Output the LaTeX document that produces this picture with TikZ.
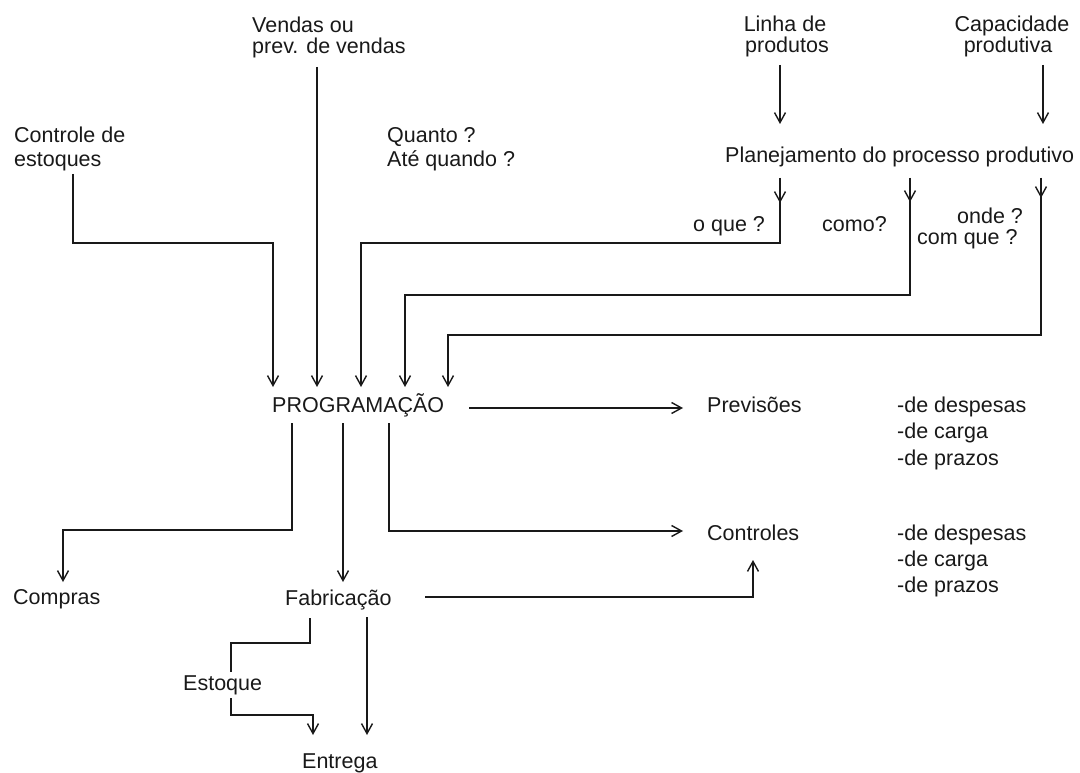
\documentclass[tikz,border=0pt]{standalone}
\usepackage{fontspec}
\setmainfont{Liberation Sans}
\usetikzlibrary{arrows.meta}
\begin{document}
\begin{tikzpicture}[x=1pt,y=-1pt,
  lbl/.style={anchor=base west,inner sep=0pt,font=\fontsize{21.5}{24}\selectfont,text=black!90},
  lblc/.style={lbl,anchor=base},
  flow/.style={line width=1.8pt,draw=black!90},
  tip/.style={-{Straight Barb[length=10pt,width=11pt,line width=1.4pt]}}]
\useasboundingbox (0,0) rectangle (1080,773);

% ---- labels ----
\node[lbl]  (vend1)   at (252,33)  {Vendas ou};
\node[lbl]  (vend2)   at (252,54)  {prev. de vendas};
\node[lblc] (linha1)  at (785,32)  {Linha de};
\node[lblc] (linha2)  at (787,53)  {produtos};
\node[lblc] (cap1)    at (1012,32) {Capacidade};
\node[lblc] (cap2)    at (1008,53) {produtiva};
\node[lbl]  (ctrl1)   at (14,143)  {Controle de};
\node[lbl]  (ctrl2)   at (14,167)  {estoques};
\node[lbl]  (quanto1) at (387,143) {Quanto ?};
\node[lbl]  (quanto2) at (387,167) {Até quando ?};
\node[lbl]  (plan)    at (725,163) {Planejamento do processo produtivo};
\node[lbl]  (oque)    at (693,232) {o que ?};
\node[lbl]  (como)    at (822,232) {como?};
\node[lbl]  (onde)    at (957,224) {onde ?};
\node[lbl]  (comque)  at (917,244) {com que ?};
\node[lbl]  (prog)    at (272,412) {PROGRAMAÇÃO};
\node[lbl]  (prev)    at (707,412) {Previsões};
\node[lbl]  (pd1)     at (897,412) {-de despesas};
\node[lbl]  (pd2)     at (897,438) {-de carga};
\node[lbl]  (pd3)     at (897,465) {-de prazos};
\node[lbl]  (ctl)     at (707,540) {Controles};
\node[lbl]  (cd1)     at (897,540) {-de despesas};
\node[lbl]  (cd2)     at (897,566) {-de carga};
\node[lbl]  (cd3)     at (897,592) {-de prazos};
\node[lbl]  (compras) at (13,604)  {Compras};
\node[lbl]  (fab)     at (285,605) {Fabricação};
\node[lbl]  (est)     at (183,690) {Estoque};
\node[lbl]  (ent)     at (302,768) {Entrega};

% ---- inputs of the programming step ----
\coordinate (in1) at (273,387);
\coordinate (in2) at (317,387);
\coordinate (in3) at (361,387);
\coordinate (in4) at (405,387);
\coordinate (in5) at (448,387);

\draw[flow,tip] (73,174) |- (273,243) -- (in1);
\draw[flow,tip] (317,67) -- (in2);

% planning inputs
\draw[flow,tip] (780,65) -- (780,124);
\draw[flow,tip] (1043,65) -- (1043,124);

% planning outputs (marked at their start, then routed down)
\coordinate (o1) at (780,178);
\coordinate (o2) at (910,178);
\coordinate (o3) at (1041,178);
\draw[flow,tip] (o1) -- ++(0,25);
\draw[flow,tip] (o2) -- ++(0,24);
\draw[flow,tip] (o3) -- ++(0,20);
\draw[flow,tip] (o1) |- (361,243) -- (in3);
\draw[flow,tip] (o2) |- (405,295) -- (in4);
\draw[flow,tip] (o3) |- (448,335) -- (in5);

% ---- outputs of the programming step ----
\draw[flow,tip] (469,408) -- (683,408);
\draw[flow,tip] (292,423) |- (63,530) -- (63,582);
\draw[flow,tip] (343,423) -- (343,582);
\draw[flow,tip] (389,423) |- (683,531);

% ---- manufacturing ----
\draw[flow,tip] (425,597) -| (753,560);
\draw[flow] (310,618) |- (231,643) -- (231,672);
\draw[flow,tip] (231,698) |- (313,715) -- (313,735);
\draw[flow,tip] (367,617) -- (367,735);
\end{tikzpicture}
\end{document}
